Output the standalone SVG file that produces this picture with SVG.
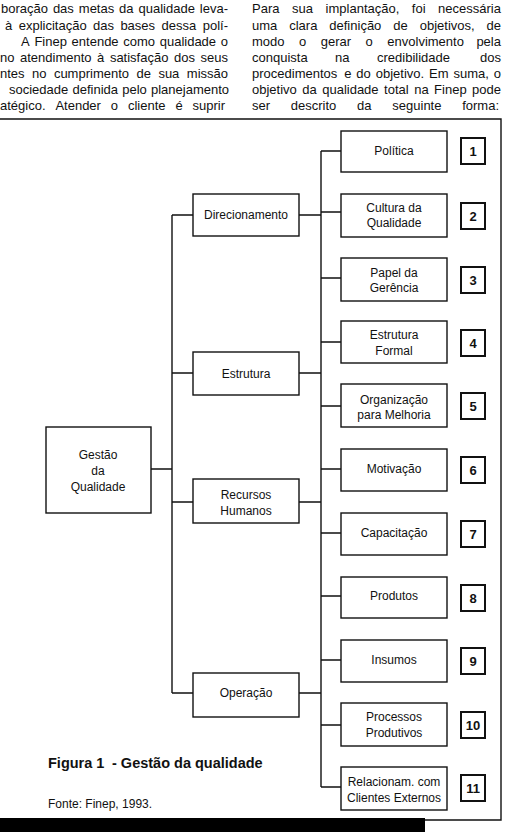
<svg xmlns="http://www.w3.org/2000/svg" width="508" height="832" viewBox="0 0 508 832">
<style>
.body{font-family:"Liberation Sans",Arial,sans-serif;font-size:13px;fill:#111}
.lbl{font-family:"Liberation Sans",Arial,sans-serif;font-size:12px;fill:#111;text-anchor:middle}
.num{font-family:"Liberation Sans",Arial,sans-serif;font-size:13px;font-weight:bold;fill:#111;text-anchor:middle}
.box{fill:#fff;stroke:#111;stroke-width:1.4}
.nbox{fill:#fff;stroke:#111;stroke-width:2}
.ln{fill:none;stroke:#111;stroke-width:1.4}
.cap{font-family:"Liberation Sans",Arial,sans-serif;font-size:14.5px;font-weight:bold;fill:#111}
.src{font-family:"Liberation Sans",Arial,sans-serif;font-size:12px;fill:#111}
</style>
<rect width="508" height="832" fill="#fff"/>
<g id="body-text">
<text class="body" y="13"><tspan x="1">boração</tspan><tspan x="52.9">das</tspan><tspan x="78.8">metas</tspan><tspan x="119.1">da</tspan><tspan x="138.5">qualidade</tspan><tspan x="199.8">leva-</tspan></text>
<text class="body" y="29.5"><tspan x="5">à</tspan><tspan x="18.7">explicitação</tspan><tspan x="93">das</tspan><tspan x="120.4">bases</tspan><tspan x="161.6">dessa</tspan><tspan x="202.7">polí-</tspan></text>
<text class="body" y="46"><tspan x="21">A</tspan><tspan x="34.4">Finep</tspan><tspan x="71.6">entende</tspan><tspan x="123.2">como</tspan><tspan x="159.7">qualidade</tspan><tspan x="220.8">o</tspan></text>
<text class="body" y="62"><tspan x="0">no</tspan><tspan x="20">atendimento</tspan><tspan x="97.1">à</tspan><tspan x="109.9">satisfação</tspan><tspan x="174">dos</tspan><tspan x="200.5">seus</tspan></text>
<text class="body" y="78"><tspan x="0">ntes</tspan><tspan x="32">no</tspan><tspan x="53.9">cumprimento</tspan><tspan x="136.5">de</tspan><tspan x="158.4">sua</tspan><tspan x="186.8">missão</tspan></text>
<text class="body" y="94"><tspan x="9">sociedade</tspan><tspan x="72.5">definida</tspan><tspan x="122.2">pelo</tspan><tspan x="151">planejamento</tspan></text>
<text class="body" y="110"><tspan x="0">atégico.</tspan><tspan x="55.4">Atender</tspan><tspan x="110.8">o</tspan><tspan x="127.9">cliente</tspan><tspan x="175.4">é</tspan><tspan x="192.5">suprir</tspan></text>
<text class="body" y="13"><tspan x="252">Para</tspan><tspan x="292">sua</tspan><tspan x="325.6">implantação,</tspan><tspan x="411.8">foi</tspan><tspan x="438.1">necessária</tspan></text>
<text class="body" y="29.5"><tspan x="252">uma</tspan><tspan x="289.2">clara</tspan><tspan x="329.3">definição</tspan><tspan x="393.3">de</tspan><tspan x="419.7">objetivos,</tspan><tspan x="486.5">de</tspan></text>
<text class="body" y="46"><tspan x="252">modo</tspan><tspan x="299">o</tspan><tspan x="320.8">gerar</tspan><tspan x="365.6">o</tspan><tspan x="387.3">envolvimento</tspan><tspan x="476.4">pela</tspan></text>
<text class="body" y="62"><tspan x="252">conquista</tspan><tspan x="335.1">na</tspan><tspan x="377">credibilidade</tspan><tspan x="480">dos</tspan></text>
<text class="body" y="78"><tspan x="252">procedimentos</tspan><tspan x="344.2">e</tspan><tspan x="356.3">do</tspan><tspan x="375.7">objetivo.</tspan><tspan x="429">Em</tspan><tspan x="453.5">suma,</tspan><tspan x="493.8">o</tspan></text>
<text class="body" y="94"><tspan x="252">objetivo</tspan><tspan x="302.3">da</tspan><tspan x="322.2">qualidade</tspan><tspan x="384.1">total</tspan><tspan x="414.2">na</tspan><tspan x="434.1">Finep</tspan><tspan x="472.1">pode</tspan></text>
<text class="body" y="110"><tspan x="252">ser</tspan><tspan x="290.8">descrito</tspan><tspan x="357.1">da</tspan><tspan x="392.3">seguinte</tspan><tspan x="462.2">forma:</tspan></text>
</g>
<g id="frame">
<path class="ln" d="M0 119H501V820H425"/>
<rect x="0" y="818" width="425" height="14" fill="#000"/>
</g>
<g id="connectors">
<path class="ln" d="M151 469H172M172 215V693M172 215H193M172 373H193M172 502H193M172 693H193"/>
<path class="ln" d="M299 215H321M299 373H321M299 502H321M299 693H321M321 151V787"/>
<path class="ln" d="M321 151H341M321 212H341M321 278H341M321 342H341M321 406H341M321 469H341M321 533H341M321 596H341M321 660H341M321 725H341M321 787H341"/>
</g>
<g id="gestao"><rect class="box" x="46" y="427" width="105" height="86"/><text class="lbl" x="98" y="459">Gestão</text><text class="lbl" x="98" y="475">da</text><text class="lbl" x="98" y="491">Qualidade</text></g>
<g id="direcionamento"><rect class="box" x="193" y="194" width="106" height="42"/><text class="lbl" x="246" y="219">Direcionamento</text></g>
<g id="estrutura"><rect class="box" x="193" y="352" width="106" height="43"/><text class="lbl" x="246" y="378">Estrutura</text></g>
<g id="recursos"><rect class="box" x="193" y="479" width="106" height="44"/><text class="lbl" x="246" y="499">Recursos</text><text class="lbl" x="246" y="515">Humanos</text></g>
<g id="operacao"><rect class="box" x="193" y="673" width="106" height="44"/><text class="lbl" x="246" y="697">Operação</text></g>
<g id="politica"><rect class="box" x="341" y="131" width="106" height="41"/><text class="lbl" x="394" y="155">Política</text></g>
<g id="cultura"><rect class="box" x="341" y="194" width="106" height="43"/><text class="lbl" x="394" y="212">Cultura da</text><text class="lbl" x="394" y="227">Qualidade</text></g>
<g id="papel"><rect class="box" x="341" y="258" width="106" height="43"/><text class="lbl" x="394" y="277">Papel da</text><text class="lbl" x="394" y="292">Gerência</text></g>
<g id="estrutura-formal"><rect class="box" x="341" y="321" width="106" height="42"/><text class="lbl" x="394" y="339">Estrutura</text><text class="lbl" x="394" y="355">Formal</text></g>
<g id="organizacao"><rect class="box" x="341" y="384" width="106" height="43"/><text class="lbl" x="394" y="404">Organização</text><text class="lbl" x="394" y="419">para Melhoria</text></g>
<g id="motivacao"><rect class="box" x="341" y="449" width="106" height="42"/><text class="lbl" x="394" y="473">Motivação</text></g>
<g id="capacitacao"><rect class="box" x="341" y="513" width="106" height="42"/><text class="lbl" x="394" y="537">Capacitação</text></g>
<g id="produtos"><rect class="box" x="341" y="577" width="106" height="41"/><text class="lbl" x="394" y="600">Produtos</text></g>
<g id="insumos"><rect class="box" x="341" y="640" width="106" height="42"/><text class="lbl" x="394" y="664">Insumos</text></g>
<g id="processos"><rect class="box" x="341" y="703" width="106" height="43"/><text class="lbl" x="394" y="721">Processos</text><text class="lbl" x="394" y="737">Produtivos</text></g>
<g id="relacionam"><rect class="box" x="341" y="767" width="106" height="43"/><text class="lbl" x="394" y="786">Relacionam. com</text><text class="lbl" x="394" y="802">Clientes Externos</text></g>
<g id="n1"><rect class="nbox" x="461" y="138" width="24" height="26"/><text class="num" x="473" y="156">1</text></g>
<g id="n2"><rect class="nbox" x="461" y="203" width="24" height="26"/><text class="num" x="473" y="221">2</text></g>
<g id="n3"><rect class="nbox" x="461" y="267" width="24" height="26"/><text class="num" x="473" y="285">3</text></g>
<g id="n4"><rect class="nbox" x="461" y="330" width="24" height="26"/><text class="num" x="473" y="348">4</text></g>
<g id="n5"><rect class="nbox" x="461" y="393" width="24" height="26"/><text class="num" x="473" y="411">5</text></g>
<g id="n6"><rect class="nbox" x="461" y="457" width="24" height="26"/><text class="num" x="473" y="475">6</text></g>
<g id="n7"><rect class="nbox" x="461" y="521" width="24" height="26"/><text class="num" x="473" y="539">7</text></g>
<g id="n8"><rect class="nbox" x="461" y="585" width="24" height="26"/><text class="num" x="473" y="603">8</text></g>
<g id="n9"><rect class="nbox" x="461" y="648" width="24" height="26"/><text class="num" x="473" y="666">9</text></g>
<g id="n10"><rect class="nbox" x="461" y="712" width="24" height="26"/><text class="num" x="473" y="730">10</text></g>
<g id="n11"><rect class="nbox" x="461" y="775" width="24" height="26"/><text class="num" x="473" y="793">11</text></g>
<g id="caption">
<text class="cap" y="768"><tspan x="48">Figura 1</tspan><tspan x="112">- Gestão da qualidade</tspan></text>
<text class="src" x="48" y="808">Fonte: Finep, 1993.</text>
</g>
</svg>
